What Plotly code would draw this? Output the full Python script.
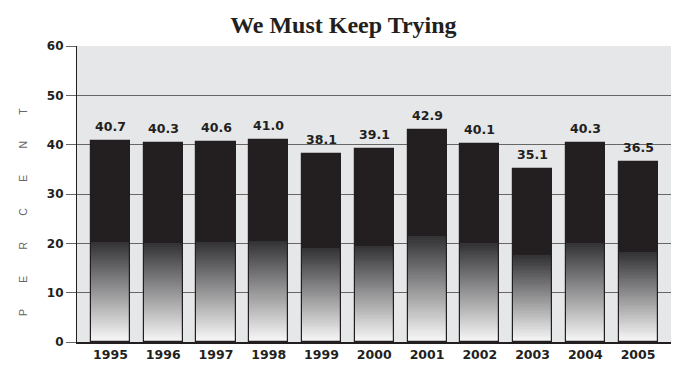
import plotly.graph_objects as go

years = ["1995", "1996", "1997", "1998", "1999", "2000", "2001", "2002", "2003", "2004", "2005"]
percent = [40.7, 40.3, 40.6, 41.0, 38.1, 39.1, 42.9, 40.1, 35.1, 40.3, 36.5]
y_ticks = [0, 10, 20, 30, 40, 50, 60]
title_text = "We Must Keep Trying"
y_title = "PERCENT"

N = 50
bottom_rgb = (250, 250, 250)
top_rgb = (50, 49, 51)
dark = "#231f20"
bar_w = 0.74
lbl_font = "DejaVu Sans, Arial"

fig = go.Figure()

# gradient part: bottom half of each bar, built from stacked thin segments
for i in range(N):
    t = (i + 0.5) / N
    c = tuple(round(bottom_rgb[k] + (top_rgb[k] - bottom_rgb[k]) * t) for k in range(3))
    seg = [v / 2 / N for v in percent]
    base = [i * v / 2 / N for v in percent]
    fig.add_trace(go.Bar(x=years, y=seg, base=base, width=bar_w,
                         marker=dict(color="rgb(%d,%d,%d)" % c, line=dict(width=0)),
                         hoverinfo="skip", showlegend=False))

# solid upper half
fig.add_trace(go.Bar(x=years, y=[v / 2 for v in percent], base=[v / 2 for v in percent],
                     width=bar_w, marker=dict(color=dark, line=dict(width=0)),
                     hoverinfo="skip", showlegend=False))

# outline
fig.add_trace(go.Bar(x=years, y=percent, width=bar_w,
                     marker=dict(color="rgba(0,0,0,0)", line=dict(width=1.2, color=dark)),
                     showlegend=False))

for i, v in enumerate(percent):
    fig.add_annotation(x=i, y=v, text="%.1f" % v, showarrow=False, yanchor="bottom",
                       yshift=5, font=dict(family=lbl_font, size=12.5, color=dark,
                                           weight="bold"))

spaced = ("\u00a0" * 9).join(list(y_title))
fig.add_annotation(xref="paper", yref="paper", x=-0.104, y=0.44, text=spaced,
                   textangle=-90, showarrow=False,
                   font=dict(family="Liberation Sans, Arial", size=10.5, color="#666666"))

fig.update_layout(
    width=684, height=374,
    margin=dict(l=77, r=13, t=46, b=21),
    paper_bgcolor="white", plot_bgcolor="#e6e7e8",
    barmode="overlay", bargap=0,
    title=dict(text="<b>" + title_text + "</b>", x=0.502, xanchor="center", y=0.935, yanchor="middle",
               font=dict(family="Liberation Serif, Times New Roman", size=24, color=dark)),
    xaxis=dict(type="category", range=[-0.635, 10.625], showgrid=False,
               showline=True, linecolor=dark, linewidth=1.5, ticks="",
               tickfont=dict(family=lbl_font, size=12.5, color=dark, weight="bold")),
    yaxis=dict(range=[0, 60], tickvals=y_ticks, showgrid=True, gridcolor="#666666", gridwidth=1.3,
               zeroline=False, showline=True, linecolor=dark, linewidth=1.2,
               ticks="outside", ticklen=10, tickcolor="#666666", tickwidth=1.3,
               tickfont=dict(family=lbl_font, size=12, color=dark, weight="bold")),
)

fig.write_html("out.html", config={"displayModeBar": False},
               post_script="document.body.style.margin='0px';document.body.style.overflow='hidden';")
